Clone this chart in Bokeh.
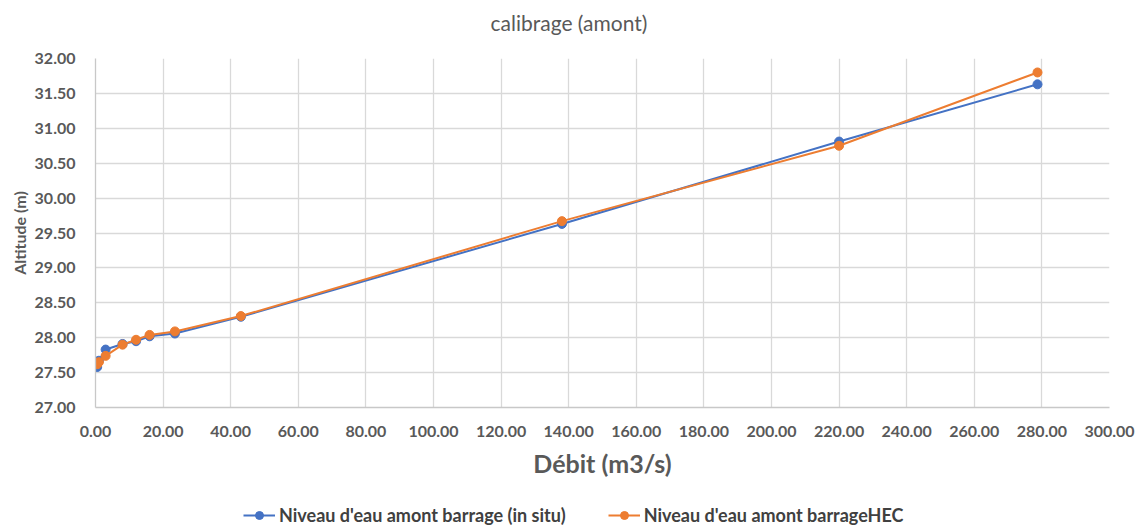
from bokeh.plotting import figure
from bokeh.layouts import column
from bokeh.models import (Range1d, FixedTicker, NumeralTickFormatter, Legend,
                          LegendItem, ColumnDataSource, Label)
from bokeh.embed import file_html
from bokeh.resources import INLINE

# Discharge (m3/s) and upstream water level (m)
debit = [0.5, 1.0, 3.0, 8.0, 12.0, 16.0, 23.5, 43.0, 138.0, 220.0, 278.7]
niveau_in_situ = [27.58, 27.67, 27.83, 27.91, 27.95, 28.02, 28.06, 28.30, 29.63, 30.81, 31.63]
niveau_hec = [27.62, 27.65, 27.74, 27.90, 27.97, 28.04, 28.09, 28.31, 29.67, 30.75, 31.80]

x_ticks = [0, 20, 40, 60, 80, 100, 120, 140, 160, 180, 200, 220, 240, 260, 280, 300]
y_ticks = [27.0, 27.5, 28.0, 28.5, 29.0, 29.5, 30.0, 30.5, 31.0, 31.5, 32.0]

title_text = "calibrage (amont)"
labels = ["Niveau d'eau amont barrage (in situ)", "Niveau d'eau amont barrageHEC"]

FONT = "Lato"
GREY = "#595959"
BLUE = "#4472C4"
ORANGE = "#ED7D31"


def strip(height):
    """Blank full-width band used for the heading and the legend."""
    f = figure(width=1141, height=height, output_backend="svg", toolbar_location=None,
               x_range=Range1d(1000, 1001), y_range=Range1d(0, 1),
               min_border=0, outline_line_color=None,
               background_fill_color="white", border_fill_color="white")
    f.axis.visible = False
    f.grid.visible = False
    return f


# heading band
head = strip(40)
head.add_layout(Label(x=395, y=18, x_units="screen", y_units="screen",
                      text=title_text, text_font=FONT, text_font_size="21px",
                      text_color=GREY, text_align="left", text_baseline="middle"))

# main chart
p = figure(width=1141, height=450, output_backend="svg", toolbar_location=None,
           x_range=Range1d(0, 300), y_range=Range1d(27, 32),
           min_border_left=95, min_border_right=32, min_border_top=18,
           min_border_bottom=83, outline_line_color=None,
           background_fill_color="white", border_fill_color="white")

for g in (p.xgrid, p.ygrid):
    g.grid_line_color = "#d9d9d9"
    g.grid_line_width = 1.3
p.xgrid.ticker = FixedTicker(ticks=x_ticks)
p.ygrid.ticker = FixedTicker(ticks=y_ticks)

p.xaxis.ticker = FixedTicker(ticks=x_ticks)
p.yaxis.ticker = FixedTicker(ticks=y_ticks)
p.xaxis.formatter = NumeralTickFormatter(format="0.00")
p.yaxis.formatter = NumeralTickFormatter(format="0.00")
for ax in (p.xaxis[0], p.yaxis[0]):
    ax.axis_line_color = "#c8c8c8"
    ax.axis_line_width = 1.3
    ax.major_tick_line_color = None
    ax.minor_tick_line_color = None
    ax.major_label_text_font = FONT
    ax.major_label_text_font_size = "16px"
    ax.major_label_text_font_style = "bold"
    ax.major_label_text_color = GREY
    ax.axis_label_text_font = FONT
    ax.axis_label_text_font_style = "bold"
    ax.axis_label_text_color = GREY

p.xaxis.major_label_standoff = 12
p.yaxis.major_label_standoff = 14
p.xaxis.axis_label = "Débit (m3/s)"
p.xaxis.axis_label_text_font_size = "25px"
p.xaxis.axis_label_standoff = 8
p.yaxis.axis_label = "Altitude (m)"
p.yaxis.axis_label_text_font_size = "16px"
p.yaxis.axis_label_standoff = 3

src = ColumnDataSource(dict(x=debit, a=niveau_in_situ, b=niveau_hec))

p.line("x", "a", source=src, line_color=BLUE, line_width=2)
p.scatter("x", "a", source=src, size=9, fill_color=BLUE, line_color=BLUE)
p.line("x", "b", source=src, line_color=ORANGE, line_width=2)
p.scatter("x", "b", source=src, size=9, fill_color=ORANGE, line_color=ORANGE)

# legend band: same series, drawn outside its visible range
leg = strip(36)
a1 = leg.line("x", "a", source=src, line_color=BLUE, line_width=2)
b1 = leg.scatter("x", "a", source=src, size=8, fill_color=BLUE, line_color=BLUE)
a2 = leg.line("x", "b", source=src, line_color=ORANGE, line_width=2)
b2 = leg.scatter("x", "b", source=src, size=8, fill_color=ORANGE, line_color=ORANGE)

legend = Legend(items=[
    LegendItem(label=labels[0], renderers=[a1, b1]),
    LegendItem(label=labels[1], renderers=[a2, b2]),
], orientation="horizontal", location=(148, 0))
legend.label_text_font = FONT
legend.label_text_font_size = "18px"
legend.label_text_font_style = "bold"
legend.label_text_color = "#404040"
legend.border_line_color = None
legend.background_fill_alpha = 0
legend.glyph_width = 32
legend.spacing = 42
legend.label_standoff = 4
legend.margin = 0
legend.padding = 0
leg.add_layout(legend, "center")

layout = column(head, p, leg, spacing=0)
open("out.html", "w").write(file_html(layout, INLINE))
